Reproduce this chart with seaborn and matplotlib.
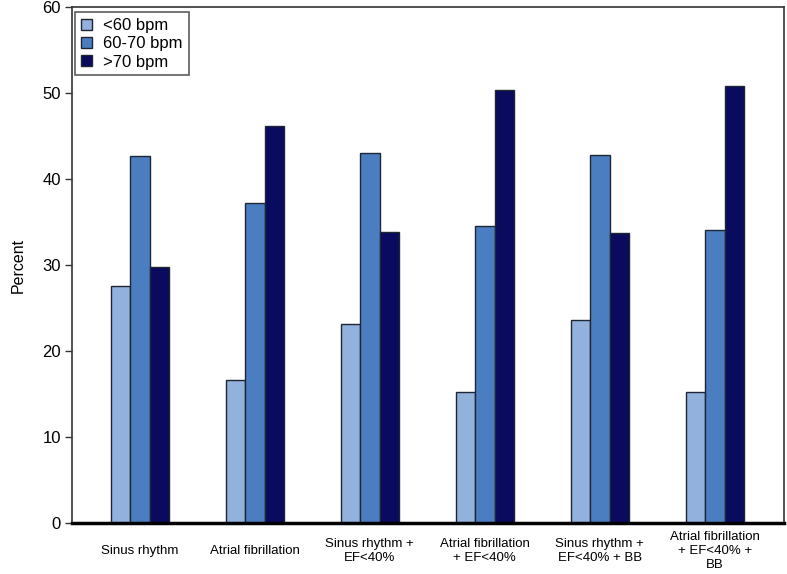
import pandas as pd
import matplotlib.pyplot as plt
import seaborn as sns

groups = ["Sinus rhythm", "Atrial fibrillation", "Sinus rhythm +\nEF<40%",
          "Atrial fibrillation\n+ EF<40%", "Sinus rhythm +\nEF<40% + BB",
          "Atrial fibrillation\n+ EF<40% +\nBB"]
hr_classes = ["<60 bpm", "60-70 bpm", ">70 bpm"]
low = [27.6, 16.6, 23.1, 15.2, 23.6, 15.2]
mid = [42.7, 37.2, 43.0, 34.5, 42.8, 34.1]
high = [29.8, 46.2, 33.8, 50.3, 33.7, 50.8]
colors = ["#92B1DC", "#4B7EC0", "#0A0A5E"]

rows = []
for vals, cls in zip([low, mid, high], hr_classes):
    for g, v in zip(groups, vals):
        rows.append([g, cls, v])
df = pd.DataFrame(rows, columns=["Group", "Rate", "Percent"])

sns.set_style("white")
plt.rcParams['font.family'] = ['Liberation Sans', 'DejaVu Sans']

fig = plt.figure(figsize=(7.87, 5.74), dpi=100)
ax = fig.add_axes([0.0915, 0.0889, 0.9045, 0.899])
sns.barplot(data=df, x="Group", y="Percent", hue="Rate", palette=colors,
            saturation=1, width=0.51, edgecolor="#1E2633", linewidth=1.0, ax=ax)

ax.set_ylim(0, 60)
ax.set_xlim(-0.59, 5.6)
ax.set_yticks(range(0, 61, 10))
ax.set_xlabel("")
ax.set_ylabel("Percent", fontsize=11.5, color="black", labelpad=12)
ax.tick_params(axis="y", left=True, length=5, width=1, labelsize=12, pad=3,
               color="#333333", labelcolor="black")
ax.tick_params(axis="x", bottom=False, length=0, pad=20, labelcolor="black")
for lab in ax.get_xticklabels():
    lab.set_verticalalignment("center")
    lab.set_fontsize(9.5)

for side in ["top", "right", "left"]:
    ax.spines[side].set_color("#333333")
    ax.spines[side].set_linewidth(1.2)
ax.spines["bottom"].set_color("black")
ax.spines["bottom"].set_linewidth(2.5)

leg = ax.legend(loc="upper left", fontsize=12, frameon=True, fancybox=False,
                edgecolor="#333333", handlelength=0.65, handleheight=0.65,
                handletextpad=0.7, borderpad=0.35, labelspacing=0.2,
                borderaxespad=0, bbox_to_anchor=(0.004, 0.99))
leg.get_frame().set_linewidth(1.2)
for t in leg.get_texts():
    t.set_color("black")

fig.savefig("out.png", dpi=100)
